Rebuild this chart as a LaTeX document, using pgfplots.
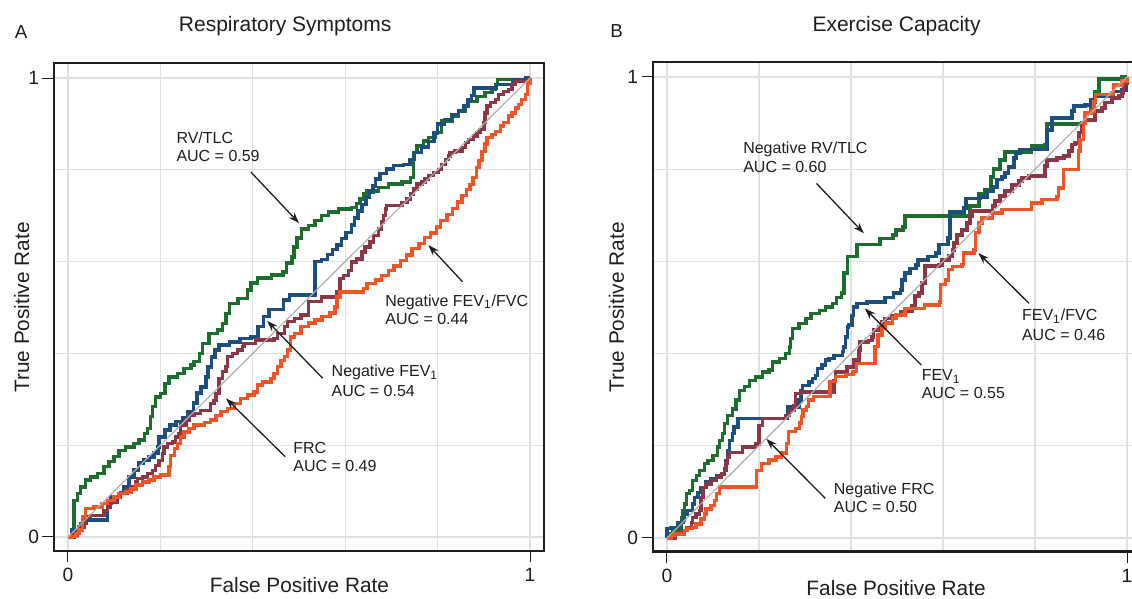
\documentclass[border=0pt]{standalone}
\usepackage{pgfplots}
\pgfplotsset{compat=1.18}
\usepackage{fontspec}
\setmainfont{Liberation Sans}
\usetikzlibrary{arrows.meta}
\definecolor{cgreen}{RGB}{30,108,46}
\definecolor{cblue}{RGB}{28,78,126}
\definecolor{cmaroon}{RGB}{140,54,70}
\definecolor{corange}{RGB}{242,84,38}
\definecolor{cgrid}{RGB}{224,224,224}
\definecolor{cdiag}{RGB}{175,175,175}
\definecolor{ctext}{RGB}{30,30,30}
\pgfplotsset{rocaxis/.style={
  scale only axis, clip=false,
  xtick={0,1}, ytick={0,1},
  minor xtick={0.2,0.4,0.6,0.8}, minor ytick={0.2,0.4,0.6,0.8},
  grid=both, grid style={cgrid, line width=0.6pt}, minor grid style={cgrid, line width=0.6pt},
  major tick length=5.75pt, minor tick length=0pt,
  tick align=outside, tick pos=left,
  major tick style={ctext, line width=0.5pt},
  axis line style={ctext, line width=1pt},
  ticklabel style={font=\fontsize{9.6}{11}\selectfont, text=ctext},
  /pgf/number format/assume math mode=true,
  yticklabel style={inner sep=1.5pt},
  xticklabel style={inner sep=2.5pt},
  every axis plot/.append style={const plot, line width=1.7pt, no markers},
}}
\tikzset{
ann/.style={anchor=base west, inner sep=0pt, font=\fontsize{8}{9.6}\selectfont, text=ctext},
arr/.style={-{Stealth[length=5.5pt,width=3.8pt]}, line width=0.65pt, ctext},
lab/.style={inner sep=0pt, font=\fontsize{10.4}{12}\selectfont, text=ctext},
ttl/.style={inner sep=0pt, anchor=base, font=\fontsize{10.5}{12}\selectfont, text=ctext},
pan/.style={inner sep=0pt, anchor=base west, font=\fontsize{9.4}{11}\selectfont, text=ctext},
}
\begin{document}
\begin{tikzpicture}
%%%%%%%%%%%%%%%% Panel A
\begin{axis}[rocaxis, at={(27pt,24pt)}, anchor=south west, width=245pt, height=244pt,
  xmin=-0.0303, xmax=1.0303, ymin=-0.0305, ymax=1.0327]
\addplot[cgreen] coordinates {(0,0) (.013,.036) (.013,.08) (.02,.095) (.027,.109) (.038,.124) (.049,.131) (.064,.138) (.078,.153) (.089,.164) (.10,.175) (.11,.189) (.125,.196) (.143,.204) (.154,.211) (.165,.225) (.172,.236) (.179,.262) (.183,.284) (.19,.305) (.20,.313) (.21,.335) (.219,.349) (.237,.356) (.251,.367) (.266,.375) (.273,.382) (.284,.40) (.291,.422) (.305,.444) (.323,.451) (.334,.465) (.342,.487) (.349,.509) (.368,.52) (.388,.538) (.396,.553) (.41,.564) (.44,.571) (.465,.577) (.473,.597) (.485,.61) (.489,.632) (.496,.651) (.506,.671) (.521,.679) (.535,.69) (.549,.70) (.564,.708) (.586,.715) (.614,.718) (.625,.726) (.632,.736) (.640,.747) (.647,.754) (.672,.762) (.694,.769) (.723,.773) (.741,.783) (.748,.816) (.748,.838) (.755,.852) (.770,.863) (.780,.870) (.795,.881) (.809,.906) (.831,.917) (.845,.928) (.860,.939) (.867,.949) (.885,.960) (.903,.968) (.918,.975) (.925,.986) (.929,.997) (.961,.997) (1,1)};
\addplot[cblue] coordinates {(0,0) (.009,.015) (.028,.03) (.039,.037) (.069,.037) (.086,.044) (.086,.074) (.093,.087) (.113,.096) (.121,.109) (.132,.131) (.143,.146) (.152,.161) (.163,.168) (.175,.174) (.186,.183) (.195,.196) (.197,.218) (.21,.233) (.221,.244) (.234,.251) (.249,.259) (.26,.272) (.272,.292) (.279,.314) (.288,.327) (.299,.349) (.303,.37) (.31,.392) (.318,.407) (.327,.418) (.35,.425) (.372,.433) (.396,.436) (.411,.458) (.423,.48) (.435,.495) (.466,.516) (.48,.527) (.528,.527) (.535,.60) (.549,.604) (.562,.616) (.572,.626) (.582,.636) (.592,.650) (.602,.664) (.613,.68) (.62,.695) (.628,.71) (.636,.725) (.645,.74) (.652,.752) (.66,.765) (.666,.78) (.675,.792) (.69,.802) (.704,.81) (.726,.812) (.74,.822) (.75,.838) (.765,.85) (.78,.862) (.792,.88) (.8,.9) (.815,.91) (.83,.92) (.845,.928) (.856,.94) (.865,.952) (.874,.962) (.879,.978) (.917,.978) (.928,.986) (.955,.986) (.962,.996) (.99,1) (1,1)};
\addplot[cmaroon] coordinates {(0,0) (.009,.004) (.02,.011) (.024,.022) (.035,.029) (.038,.044) (.049,.047) (.071,.047) (.078,.058) (.085,.065) (.092,.076) (.107,.087) (.114,.095) (.129,.102) (.136,.109) (.147,.12) (.15,.127) (.161,.131) (.172,.138) (.183,.145) (.19,.156) (.197,.167) (.204,.182) (.208,.196) (.215,.204) (.226,.207) (.233,.218) (.24,.225) (.244,.244) (.255,.255) (.262,.265) (.273,.269) (.287,.276) (.302,.276) (.309,.291) (.316,.298) (.32,.313) (.327,.331) (.327,.345) (.334,.36) (.342,.371) (.345,.393) (.356,.40) (.367,.407) (.378,.415) (.381,.422) (.396,.422) (.406,.429) (.432,.429) (.446,.433) (.453,.444) (.468,.458) (.475,.469) (.49,.476) (.504,.484) (.521,.513) (.549,.523) (.582,.534) (.589,.563) (.596,.57) (.607,.581) (.614,.599) (.625,.606) (.636,.621) (.643,.632) (.654,.643) (.661,.657) (.672,.671) (.679,.686) (.683,.70) (.687,.715) (.69,.722) (.708,.722) (.723,.729) (.734,.736) (.741,.747) (.748,.758) (.755,.769) (.766,.773) (.773,.78) (.78,.787) (.791,.794) (.802,.801) (.809,.812) (.817,.823) (.824,.83) (.827,.838) (.838,.841) (.853,.848) (.86,.859) (.867,.866) (.878,.874) (.885,.881) (.892,.888) (.90,.903) (.903,.924) (.907,.939) (.914,.946) (.925,.953) (.932,.964) (.943,.971) (.954,.975) (.961,.986) (.968,.993) (1,1)};
\addplot[corange] coordinates {(0,0) (.009,.001) (.017,.007) (.024,.015) (.031,.044) (.038,.062) (.056,.065) (.074,.073) (.085,.08) (.10,.087) (.11,.095) (.125,.098) (.136,.105) (.147,.113) (.161,.12) (.175,.124) (.186,.131) (.20,.135) (.215,.135) (.219,.153) (.222,.178) (.23,.193) (.237,.204) (.244,.218) (.251,.229) (.262,.236) (.273,.244) (.295,.249) (.309,.255) (.32,.265) (.331,.273) (.345,.28) (.36,.291) (.374,.302) (.388,.309) (.403,.316) (.41,.331) (.421,.338) (.439,.345) (.446,.356) (.453,.371) (.461,.385) (.468,.393) (.475,.407) (.482,.436) (.49,.444) (.504,.458) (.52,.466) (.535,.473) (.55,.48) (.567,.488) (.578,.501) (.582,.523) (.589,.534) (.632,.534) (.64,.542) (.647,.552) (.665,.56) (.679,.57) (.694,.58) (.706,.59) (.72,.603) (.733,.614) (.745,.628) (.76,.640) (.772,.652) (.785,.662) (.797,.675) (.806,.69) (.82,.703) (.832,.716) (.843,.73) (.853,.744) (.862,.757) (.87,.768) (.877,.783) (.884,.805) (.89,.82) (.896,.84) (.903,.856) (.907,.87) (.918,.877) (.925,.884) (.936,.895) (.943,.903) (.954,.917) (.961,.924) (.968,.935) (.975,.942) (.982,.953) (.99,.964) (.994,.989) (1,1)};
\addplot[sharp plot, cdiag, line width=0.6pt] coordinates {(0,0) (1,1)};
\node[ann] at (axis cs:.234,.858) {RV/TLC};
\node[ann] at (axis cs:.234,.817) {AUC = 0.59};
\draw[arr] (axis cs:.396,.795) -- (axis cs:.5,.684);
\node[ann] at (axis cs:.686,.503) {Negative FEV\textsubscript{1}/FVC};
\node[ann] at (axis cs:.686,.462) {AUC = 0.44};
\draw[arr] (axis cs:.854,.556) -- (axis cs:.78,.636);
\node[ann] at (axis cs:.570,.349) {Negative FEV\textsubscript{1}};
\node[ann] at (axis cs:.570,.307) {AUC = 0.54};
\draw[arr] (axis cs:.551,.346) -- (axis cs:.431,.471);
\node[ann] at (axis cs:.487,.183) {FRC};
\node[ann] at (axis cs:.487,.142) {AUC = 0.49};
\draw[arr] (axis cs:.47,.175) -- (axis cs:.342,.302);
\node[ttl] at (axis cs:.47,1.101) {Respiratory Symptoms};
\node[pan] at (axis cs:-.116,1.087) {A};
\node[lab, anchor=base] at (axis cs:.501,-.122) {False Positive Rate};
\node[lab, anchor=base, rotate=90] at (axis cs:-.0844,.5) {True Positive Rate};
\end{axis}
%%%%%%%%%%%%%%%% Panel B
\begin{axis}[rocaxis, at={(326.5pt,23.5pt)}, anchor=south west, width=244pt, height=245pt,
  xmin=-0.0304, xmax=1.0304, ymin=-0.0304, ymax=1.0325]
\addplot[cgreen] coordinates {(0,0) (.006,.009) (.013,.016) (.024,.023) (.031,.045) (.035,.059) (.038,.074) (.042,.096) (.049,.103) (.056,.125) (.064,.136) (.071,.146) (.082,.161) (.089,.168) (.10,.179) (.11,.197) (.114,.212) (.121,.226) (.125,.248) (.132,.266) (.143,.28) (.15,.299) (.157,.32) (.168,.328) (.179,.342) (.193,.349) (.208,.36) (.222,.364) (.23,.382) (.244,.389) (.258,.40) (.266,.414) (.269,.433) (.273,.454) (.287,.465) (.302,.476) (.313,.487) (.331,.494) (.345,.501) (.36,.509) (.368,.521) (.38,.531) (.385,.575) (.393,.61) (.413,.636) (.463,.65) (.491,.657) (.498,.668) (.513,.675) (.517,.698) (.654,.70) (.659,.72) (.678,.746) (.691,.755) (.704,.783) (.71,.80) (.724,.82) (.735,.837) (.787,.837) (.792,.85) (.822,.853) (.826,.898) (.902,.90) (.907,.922) (.92,.944) (.93,.968) (.939,.996) (.989,1) (1,1)};
\addplot[cblue] coordinates {(0,0) (0,.02) (.009,.023) (.024,.034) (.035,.038) (.038,.052) (.045,.059) (.056,.074) (.06,.088) (.067,.099) (.074,.11) (.085,.121) (.096,.128) (.107,.136) (.118,.139) (.125,.146) (.128,.168) (.132,.19) (.136,.212) (.143,.226) (.146,.241) (.154,.259) (.255,.259) (.262,.284) (.287,.299) (.291,.32) (.294,.331) (.309,.338) (.316,.346) (.323,.353) (.327,.367) (.337,.375) (.345,.386) (.352,.389) (.363,.396) (.381,.404) (.384,.414) (.388,.436) (.392,.458) (.395,.462) (.402,.483) (.406,.501) (.413,.509) (.435,.512) (.459,.512) (.474,.521) (.493,.531) (.507,.538) (.511,.56) (.517,.575) (.528,.585) (.541,.592) (.546,.603) (.567,.61) (.585,.618) (.591,.636) (.611,.651) (.615,.707) (.646,.716) (.65,.737) (.68,.74) (.696,.751) (.709,.761) (.717,.777) (.728,.783) (.735,.792) (.743,.805) (.754,.824) (.759,.835) (.767,.843) (.822,.843) (.826,.885) (.837,.911) (.88,.926) (.885,.937) (.909,.939) (.92,.95) (.93,.959) (.967,.961) (.97,.968) (.989,.972) (.998,.989) (1,1)};
\addplot[cmaroon] coordinates {(0,0) (.013,0) (.017,.009) (.027,.009) (.031,.016) (.042,.023) (.053,.034) (.056,.045) (.063,.052) (.071,.059) (.074,.088) (.078,.11) (.085,.117) (.096,.125) (.107,.132) (.118,.139) (.125,.15) (.128,.161) (.132,.175) (.136,.186) (.161,.186) (.164,.197) (.186,.197) (.193,.204) (.20,.219) (.20,.244) (.208,.259) (.255,.259) (.258,.266) (.265,.277) (.276,.288) (.28,.299) (.28,.313) (.291,.317) (.359,.317) (.363,.342) (.366,.36) (.388,.36) (.391,.371) (.402,.371) (.406,.386) (.417,.407) (.42,.425) (.438,.429) (.446,.436) (.449,.451) (.46,.458) (.467,.469) (.474,.476) (.489,.483) (.507,.491) (.517,.492) (.533,.503) (.539,.525) (.548,.531) (.554,.553) (.561,.568) (.561,.59) (.591,.592) (.598,.603) (.613,.612) (.62,.625) (.624,.64) (.63,.657) (.641,.668) (.652,.683) (.659,.698) (.663,.709) (.702,.709) (.707,.72) (.713,.731) (.724,.742) (.735,.753) (.75,.766) (.765,.774) (.772,.781) (.787,.785) (.815,.785) (.822,.807) (.826,.82) (.848,.824) (.863,.829) (.874,.839) (.88,.853) (.887,.857) (.896,.879) (.902,.90) (.909,.907) (.93,.926) (.946,.933) (.952,.944) (.967,.954) (.983,.959) (.989,.965) (.993,.987) (1,1)};
\addplot[corange] coordinates {(0,0) (.009,.005) (.017,.009) (.031,.009) (.038,.016) (.045,.02) (.056,.023) (.063,.03) (.074,.041) (.081,.052) (.085,.063) (.096,.07) (.103,.081) (.107,.096) (.114,.111) (.194,.111) (.194,.147) (.206,.162) (.222,.169) (.237,.176) (.249,.184) (.26,.205) (.264,.231) (.28,.238) (.288,.249) (.292,.263) (.296,.278) (.303,.285) (.307,.299) (.319,.307) (.354,.307) (.354,.339) (.366,.35) (.389,.354) (.404,.361) (.412,.379) (.448,.379) (.452,.415) (.459,.44) (.467,.455) (.475,.466) (.49,.477) (.498,.484) (.517,.498) (.56,.505) (.592,.512) (.594,.55) (.605,.56) (.612,.582) (.62,.589) (.641,.593) (.645,.618) (.667,.625) (.67,.662) (.678,.683) (.685,.694) (.707,.705) (.728,.712) (.786,.712) (.793,.727) (.815,.734) (.848,.741) (.851,.759) (.862,.763) (.862,.799) (.888,.799) (.895,.839) (.898,.864) (.906,.90) (.909,.922) (.924,.926) (.928,.947) (.931,.962) (.967,.965) (.971,.983) (.989,.991) (1,1)};
\addplot[sharp plot, cdiag, line width=0.6pt] coordinates {(0,0) (1,1)};
\draw[ctext, line width=1.5pt] (rel axis cs:0,0) -- (rel axis cs:1,0);
\node[ann] at (axis cs:.165,.833) {Negative RV/TLC};
\node[ann] at (axis cs:.165,.792) {AUC = 0.60};
\draw[arr] (axis cs:.325,.769) -- (axis cs:.428,.661);
\node[ann] at (axis cs:.771,.471) {FEV\textsubscript{1}/FVC};
\node[ann] at (axis cs:.771,.428) {AUC = 0.46};
\draw[arr] (axis cs:.787,.509) -- (axis cs:.677,.618);
\node[ann] at (axis cs:.553,.341) {FEV\textsubscript{1}};
\node[ann] at (axis cs:.553,.302) {AUC = 0.55};
\draw[arr] (axis cs:.553,.375) -- (axis cs:.43,.498);
\node[ann] at (axis cs:.362,.095) {Negative FRC};
\node[ann] at (axis cs:.362,.055) {AUC = 0.50};
\draw[arr] (axis cs:.344,.086) -- (axis cs:.216,.215);
\node[ttl] at (axis cs:.499,1.098) {Exercise Capacity};
\node[pan] at (axis cs:-.124,1.085) {B};
\node[lab, anchor=base] at (axis cs:.498,-.124) {False Positive Rate};
\node[lab, anchor=base, rotate=90] at (axis cs:-.0935,.5) {True Positive Rate};
\end{axis}
\pgfresetboundingbox
\path[use as bounding box] (0,0) rectangle (566pt,299.5pt);
\end{tikzpicture}
\end{document}
